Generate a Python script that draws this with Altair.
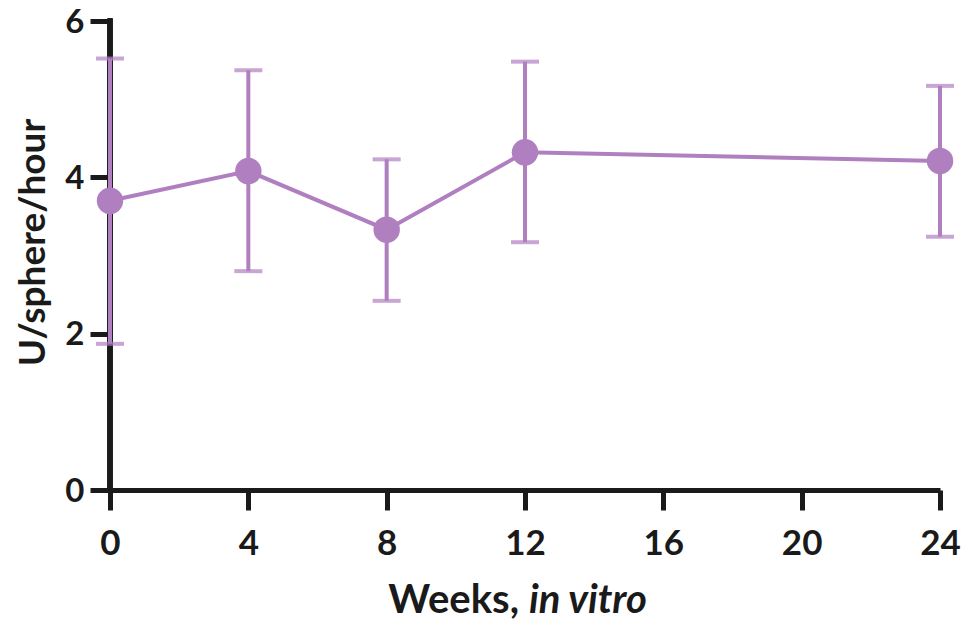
import altair as alt
import pandas as pd

weeks = [0, 4, 8, 12, 24]
mean = [3.70, 4.08, 3.33, 4.32, 4.21]
lower = [1.87, 2.80, 2.42, 3.17, 3.24]
upper = [5.52, 5.37, 4.23, 5.48, 5.17]

x_ticks = [0, 4, 8, 12, 16, 20, 24]
y_ticks = [0, 2, 4, 6]

df = pd.DataFrame({"week": weeks, "mean": mean, "lower": lower, "upper": upper})

PURPLE = "#B07FC0"
INK = "#1a1a1a"
FONT = "Lato"

xs = alt.Scale(domain=[0, 24], nice=False, zero=False)
ys = alt.Scale(domain=[0, 6], nice=False)

x_axis = alt.Axis(values=x_ticks, title=None, labelPadding=16, format="d",
                  labelFlush=False, labelFontSize=35)
y_axis = alt.Axis(values=y_ticks, title="U/sphere/hour", labelPadding=6, format="d",
                  labelFlush=False, domain=False, labelFontSize=33, labelOffset=1,
                  titleAngle=270, titleX=-66, titleY=221, titleAlign="center",
                  titleBaseline="alphabetic", titleFontSize=37, titleFont=FONT,
                  titleFontWeight="bold", titleColor=INK)

base = alt.Chart(df)

# y-axis line drawn beneath the data marks
y_line = alt.Chart(df).mark_rule(color=INK, strokeWidth=5, strokeCap="square").encode(
    x=alt.datum(0, scale=xs),
    y=alt.datum(y_ticks[0], scale=ys),
    y2=alt.datum(y_ticks[-1]),
)

rules = base.mark_rule(color=PURPLE, strokeWidth=4).encode(
    x=alt.X("week:Q", scale=xs, axis=x_axis),
    y=alt.Y("lower:Q", scale=ys, axis=y_axis),
    y2="upper:Q",
)
cap_lo = base.mark_tick(color=PURPLE, thickness=4, size=28, orient="horizontal").encode(
    x=alt.X("week:Q", scale=xs), y=alt.Y("lower:Q", scale=ys))
cap_hi = base.mark_tick(color=PURPLE, thickness=4, size=28, orient="horizontal").encode(
    x=alt.X("week:Q", scale=xs), y=alt.Y("upper:Q", scale=ys))
line = base.mark_line(color=PURPLE, strokeWidth=4).encode(
    x=alt.X("week:Q", scale=xs), y=alt.Y("mean:Q", scale=ys))
pts = base.mark_circle(color=PURPLE, opacity=1, size=700).encode(
    x=alt.X("week:Q", scale=xs), y=alt.Y("mean:Q", scale=ys))

t1 = alt.Chart(pd.DataFrame({"t": ["Weeks,"]})).mark_text(
    font=FONT, fontSize=40, fontWeight="bold", color=INK, align="right", baseline="alphabetic"
).encode(text="t:N", x=alt.value(409), y=alt.value(592))
t2 = alt.Chart(pd.DataFrame({"t": ["in vitro"]})).mark_text(
    font=FONT, fontSize=40, fontWeight="bold", fontStyle="italic", color=INK, align="left",
    baseline="alphabetic"
).encode(text="t:N", x=alt.value(419), y=alt.value(592))

chart = alt.layer(y_line, rules, cap_lo, cap_hi, line, pts, t1, t2).properties(
    width=830, height=469,
    background="white",
    autosize=alt.AutoSizeParams(type="none"),
    padding={"left": 110, "top": 21, "right": 23, "bottom": 133},
).configure_view(stroke=None).configure_axis(
    grid=False, domainColor=INK, domainWidth=5, tickColor=INK, tickWidth=5, tickSize=20,
    labelFont=FONT, labelFontWeight="bold", labelColor=INK,
)

chart.save("out.html", embed_options={"renderer": "svg", "actions": False})
